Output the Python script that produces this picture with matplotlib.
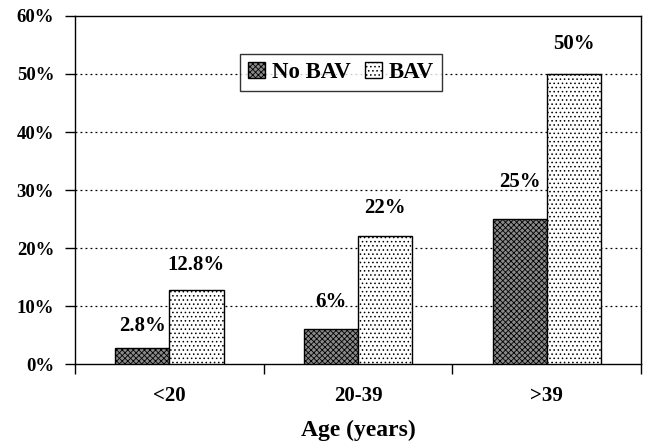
import matplotlib
matplotlib.use("Agg")
import matplotlib.pyplot as plt
import numpy as np

categories = ["<20", "20-39", ">39"]
no_bav = [2.8, 6, 25]
bav = [12.8, 22, 50]
no_bav_labels = ["2.8%", "6%", "25%"]
bav_labels = ["12.8%", "22%", "50%"]
yticks = [0, 10, 20, 30, 40, 50, 60]

plt.rcParams['font.family'] = ['Liberation Serif', 'DejaVu Serif']
plt.rcParams['font.weight'] = 'bold'
plt.rcParams['hatch.linewidth'] = 0.6

fig = plt.figure(figsize=(6.47, 4.43), dpi=100)
ax = fig.add_axes([0.116, 0.178, 0.875, 0.786])

x = np.arange(len(categories))
w = 0.287
b1 = ax.bar(x - w/2, no_bav, w, facecolor='#8a8a8a', edgecolor='black', hatch='xxxxxx', linewidth=1.0, zorder=3, label='No BAV')
b2 = ax.bar(x + w/2, bav, w, facecolor='white', edgecolor='black', hatch='....', linewidth=1.0, zorder=3, label='BAV')

off_no = [22, 27, 37]
off_bav = [25, 28, 30]
for i in range(len(categories)):
    ax.annotate(no_bav_labels[i], (x[i] - w/2, no_bav[i]), xytext=(0, off_no[i]), textcoords='offset pixels',
                ha='center', va='center', fontsize=15, fontweight='bold')
    ax.annotate(bav_labels[i], (x[i] + w/2, bav[i]), xytext=(0, off_bav[i]), textcoords='offset pixels',
                ha='center', va='center', fontsize=15, fontweight='bold')

ax.set_xlim(-0.5, 2.5)
ax.set_ylim(0, 60)
ax.set_yticks(yticks)
ax.set_yticklabels([f"{v}%" for v in yticks], fontsize=13.5, fontweight='bold')
ax.set_xticks([-0.5, 0.5, 1.5, 2.5])
ax.set_xticklabels([])
ax.set_xticks(x, minor=True)
ax.set_xticklabels(categories, minor=True, fontsize=15, fontweight='bold')
ax.tick_params(axis='x', which='minor', length=0, pad=16)
ax.tick_params(axis='x', which='major', direction='out', length=7, width=1.0)
ax.tick_params(axis='y', direction='out', length=7, width=1.0, pad=8)
ax.set_xlabel("Age (years)", fontsize=17, fontweight='bold', labelpad=10)

for v in yticks[1:-1]:
    ax.axhline(v, color='black', linestyle=(0, (1.5, 2.5)), linewidth=0.9, zorder=1)

for s in ax.spines.values():
    s.set_linewidth(1.0)

leg = ax.legend(loc='center', bbox_to_anchor=(0.47, 0.838), ncol=2, frameon=True, fancybox=False,
                edgecolor='black', fontsize=16.5, handlelength=0.75, handleheight=0.75, columnspacing=0.6,
                handletextpad=0.3, borderpad=0.35)
leg.get_frame().set_linewidth(1.0)
for t in leg.get_texts():
    t.set_fontweight('bold')

fig.savefig("out.png", dpi=100)
